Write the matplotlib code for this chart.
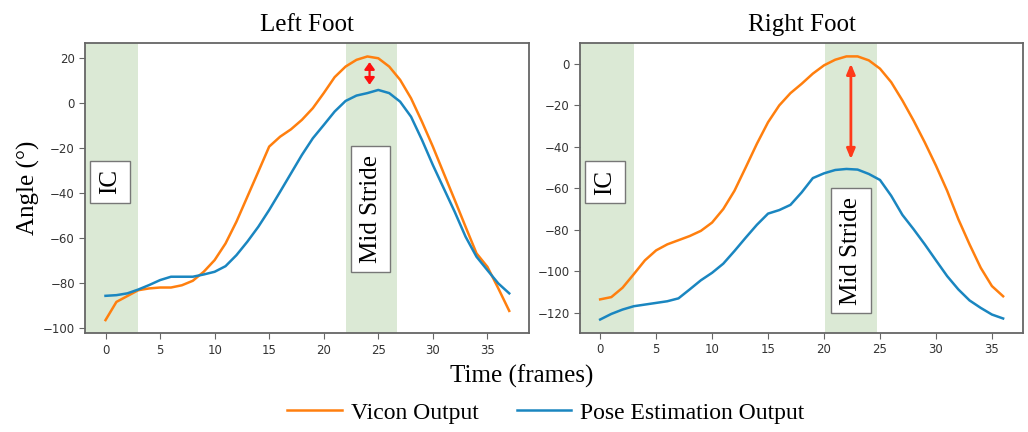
import matplotlib
matplotlib.use("Agg")
import matplotlib.pyplot as plt
import numpy as np

# ---------------- data ----------------
left_frames = list(range(38))
left_vicon = [-96.5, -88.4, -85.8, -83.2, -82.4, -82.0, -82.0, -81.0, -79.0, -75.0,
              -69.8, -62.4, -52.7, -41.6, -30.5, -19.3, -14.9, -11.6, -7.4, -2.2,
              4.5, 11.6, 16.3, 19.3, 20.8, 20.0, 16.3, 10.4, 2.2, -8.2,
              -19.3, -31.2, -43.0, -55.0, -66.8, -72.8, -82.4, -92.4]
left_pose = [-85.7, -85.4, -84.6, -82.9, -80.9, -78.7, -77.2, -77.2, -77.2, -76.2,
             -75.0, -72.5, -67.6, -61.6, -55.0, -47.5, -39.4, -31.2, -23.0, -15.6,
             -9.7, -3.7, 1.0, 3.4, 4.5, 5.9, 4.5, 0.7, -6.0, -16.3,
             -27.5, -37.9, -48.3, -59.4, -68.3, -74.3, -80.2, -84.6]

right_frames = list(range(37))
right_vicon = [-113.5, -112.4, -107.9, -101.4, -94.7, -89.9, -87.0, -85.0, -83.0, -80.5,
               -76.5, -70.0, -61.2, -50.0, -38.6, -28.2, -20.1, -14.2, -9.7, -4.8,
               -0.8, 1.9, 3.5, 3.5, 1.6, -2.4, -8.9, -17.7, -27.4, -37.9,
               -49.1, -61.2, -74.9, -87.0, -98.3, -107.1, -112.0]
right_pose = [-123.2, -120.5, -118.4, -116.8, -116.0, -115.2, -114.4, -113.0, -108.7, -104.3,
              -100.7, -96.3, -90.2, -83.8, -77.6, -72.2, -70.5, -68.0, -62.0, -55.1,
              -52.8, -51.2, -50.7, -51.0, -53.1, -56.0, -63.6, -72.8, -79.7, -87.0,
              -94.7, -102.3, -108.7, -114.0, -117.6, -120.8, -122.7]

titles = ["Left Foot", "Right Foot"]
series_names = ["Vicon Output", "Pose Estimation Output"]
ic_end = [3.0, 3.0]                       # end of IC shaded phase (frames)
mid_span = [(22.0, 26.7), (20.1, 24.7)]   # mid stride shaded phase (frames)
ic_label_pos = [(0.4, -35), (0.42, -57)]
mid_label_pos = [(24.3, -47), (22.4, -90)]
arrow_x = [24.2, 22.4]
arrow_y = [(18.3, 8.2), (0.0, -46.0)]

# ---------------- style ----------------
ORANGE = "#ff7f0e"
BLUE = "#1a86c0"
SHADE = "#dbe9d5"
FRAME = "#666666"
SERIF = ["Liberation Serif", "DejaVu Serif"]

fig = plt.figure(figsize=(10.28, 4.32), dpi=100)
ax_l = fig.add_axes([0.083, 0.2285, 0.432, 0.6713])
ax_r = fig.add_axes([0.5642, 0.2299, 0.4312, 0.670])

panels = [
    (ax_l, left_frames, left_vicon, left_pose),
    (ax_r, right_frames, right_vicon, right_pose),
]

handles = None
for i, (ax, fr, vic, pose) in enumerate(panels):
    l1, = ax.plot(fr, vic, color=ORANGE, lw=1.8, label=series_names[0], zorder=3)
    l2, = ax.plot(fr, pose, color=BLUE, lw=1.8, label=series_names[1], zorder=3)
    handles = [l1, l2]
    xl = ax.get_xlim()
    yl = ax.get_ylim()
    ax.axvspan(xl[0], ic_end[i], color=SHADE, zorder=0, lw=0)
    ax.axvspan(mid_span[i][0], mid_span[i][1], color=SHADE, zorder=0, lw=0)
    ax.set_xlim(xl)
    ax.set_ylim(yl)

    ax.text(ic_label_pos[i][0], ic_label_pos[i][1], "IC", rotation=90,
            ha="center", va="center", fontsize=18, family=SERIF, zorder=5,
            bbox=dict(boxstyle="square,pad=0.35", fc="white", ec="#777777", lw=1.0))
    ax.text(mid_label_pos[i][0], mid_label_pos[i][1], "Mid Stride", rotation=90,
            ha="center", va="center", fontsize=18, family=SERIF, zorder=5,
            bbox=dict(boxstyle="square,pad=0.35", fc="white", ec="#777777", lw=1.0))

    if i == 0:
        ax.annotate("", xy=(arrow_x[i], arrow_y[i][1]), xytext=(arrow_x[i], arrow_y[i][0]),
                    arrowprops=dict(arrowstyle="<|-|>,head_length=0.42,head_width=0.3",
                                    color="#ff1010", lw=1.6, shrinkA=0, shrinkB=0), zorder=6)
    else:
        ax.annotate("", xy=(arrow_x[i], arrow_y[i][1]), xytext=(arrow_x[i], arrow_y[i][0]),
                    arrowprops=dict(arrowstyle="<|-|>,head_length=0.6,head_width=0.25",
                                    color="#ff3a1a", lw=2.0, shrinkA=0, shrinkB=0), zorder=6)

    ax.set_title(titles[i], fontsize=18, family=SERIF, pad=9)
    ax.set_xticks(range(0, 36, 5))
    for s in ax.spines.values():
        s.set_color(FRAME)
        s.set_linewidth(1.3)
    ax.tick_params(colors=FRAME, labelcolor="#333333", labelsize=8.5, length=4)

ax_l.set_ylabel("Angle (°)", fontsize=18, family=SERIF, labelpad=2)
fig.text(0.507, 0.13, "Time (frames)", ha="center", va="center", fontsize=18, family=SERIF)

fig.legend(handles, series_names, loc="center", bbox_to_anchor=(0.531, 0.044),
           ncol=2, frameon=False, prop={"family": SERIF, "size": 17},
           handlelength=2.3, handletextpad=0.4, columnspacing=1.6)

fig.savefig("out.png", dpi=100)
